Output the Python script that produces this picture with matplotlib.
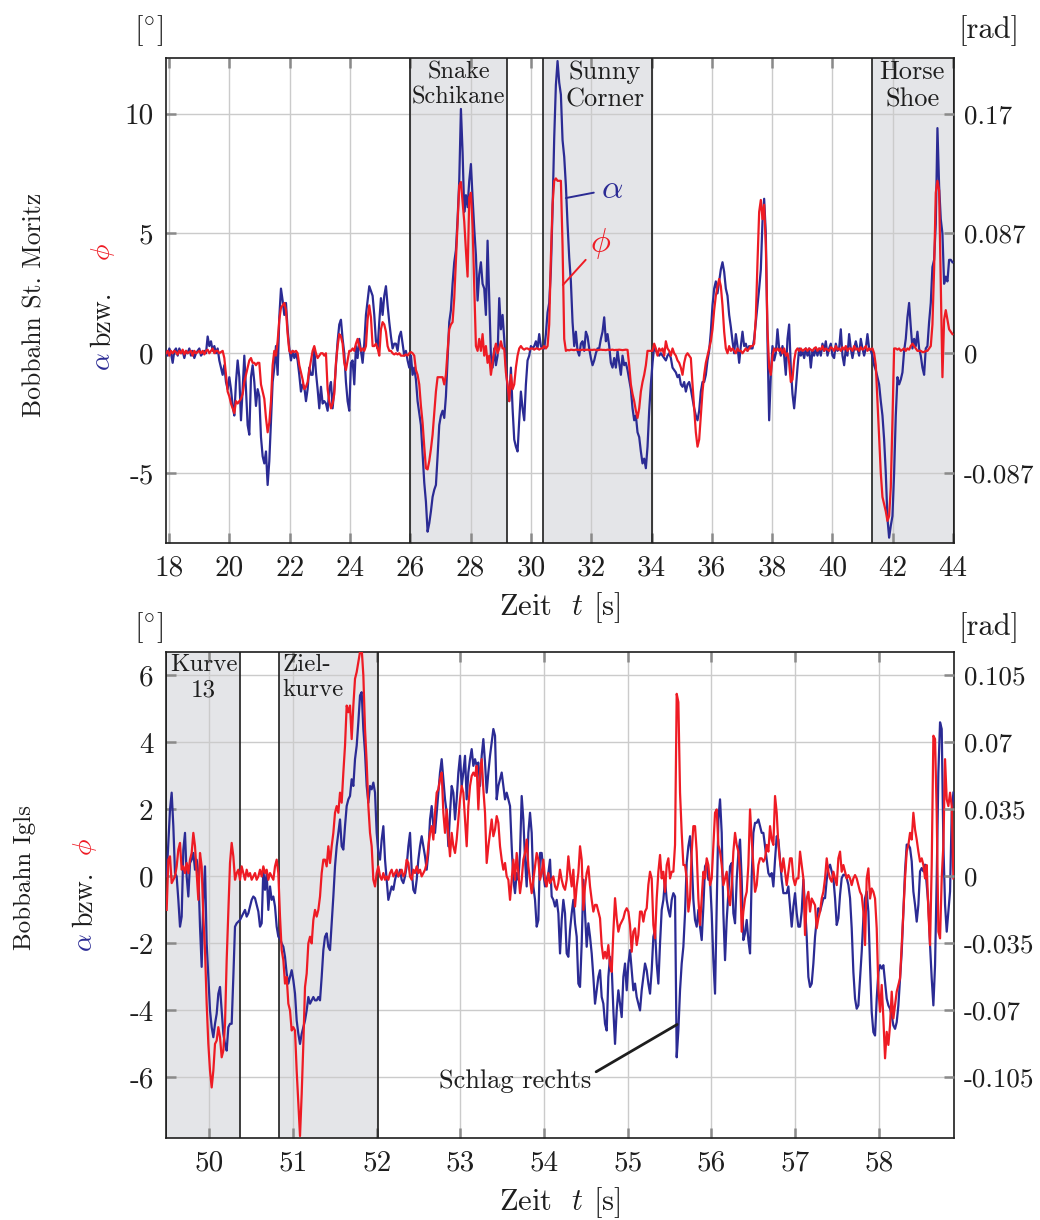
import numpy as np
import matplotlib
matplotlib.use("Agg")
import matplotlib.pyplot as plt

plt.rcParams['font.family'] = 'cmr10'
plt.rcParams['mathtext.fontset'] = 'cm'
plt.rcParams['axes.unicode_minus'] = False
plt.rcParams['axes.formatter.use_mathtext'] = True

# ---------------------------------------------------------------- data
# St. Moritz run: sample clock of the logged angles
moritz_t0 = 17.90
moritz_dt = 0.05525

moritz_alpha = [
    # 17.9 s - 24.3 s
    0.1, -0.1, 0.2, 0.0, -0.4, 0.1, 0.2, -0.1, 0.2, 0.0, 0.1, -0.2, 0.1, 0.0, 0.2, -0.1, 0.1, -0.2, 0.0, 0.1,
    0.2, -0.1, 0.0, 0.1, 0.0,
    0.7, 0.3, 0.5, 0.1, 0.3, 0.0, 0.2, -0.3, -0.6, -0.9,
    -0.5, -1.2, -1.5, -1.0, -1.5, -2.2, -2.6, -1.2, -0.3, -1.0,
    -2.8, -1.5, -0.1, -1.5, -3.0, -3.4, -1.0, -0.5, -1.2, -2.2,
    -1.5, -1.8, -3.5, -4.3, -4.6, -4.1, -5.5, -4.5, -2.8, -1.2,
    -0.6, 0.3, -0.9, 1.5, 2.7, 2.2, 1.6, 2.1, 1.0, 0.2,
    -0.3, 0.1, -0.2, 0.0, -0.3, -0.9, -1.6, -1.3, -1.4, -2.0,
    -1.5, -0.6, -0.9, -0.9, 0.2, -0.8, -1.5, -2.3, -1.4, -2.1,
    -2.0, -2.1, -2.4, -1.5, -1.2, -2.3, -1.5, -0.5, 0.5, 1.2,
    1.4, 0.6, 0.0, -1.2, -2.0, -2.4, -0.4, -0.3, -1.3, 0.3,
    -0.2, 0.6,
    # 24.4 s - 30.9 s
    0.1, -0.4, 0.4, 1.6, 2.2, 2.8, 2.6, 2.4, 1.6, 0.5,
    0.2, 1.3, 2.3, 1.6, 2.4, 2.8, 2.0, 1.3, 0.7, 0.2,
    0.4, 0.4, 0.1, 0.7, 0.9, 0.4, -0.1, 0.1, -0.3, -0.6,
    -0.1, -0.9, -0.6, -1.1, -2.0, -2.5, -3.0, -4.2, -5.4, -6.2,
    -7.45, -7.1, -6.6, -6.0, -5.7, -5.5, -4.3, -3.0, -2.6, -2.4,
    -2.7, -1.8, -0.3, 1.3, 1.8, 2.9, 3.8, 4.3, 5.6, 7.2,
    10.2, 8.4, 5.9, 6.6, 6.1, 7.2, 7.9, 6.5, 5.2, 4.1,
    2.2, 3.3, 3.8, 2.9, 2.7, 1.6, 4.7, 2.3, -0.1, -0.6,
    0.2, -0.5, -0.1, 2.3, 1.0, 1.6, 0.6, -0.5, -1.5, -2.0,
    -0.6, -2.3, -3.6, -3.9, -4.1, -2.8, -1.6, -2.3, -2.8, -1.3,
    -0.3, -0.1, 0.3, 0.2, 0.3, 0.5, 0.2, 0.8, 0.3, 0.2,
    0.2, 0.8, 1.7, 2.1, 3.5, 6.0, 9.0, 11.2, 12.2, 11.3,
    # 31.0 s - 37.6 s
    10.8, 8.9, 8.2, 7.0, 5.4, 4.0, 3.0, 1.3, 0.3, 0.9,
    0.1, -0.1, 0.4, 0.5, 0.1, 0.9, 0.7, 0.2, -0.2, -0.5,
    -0.3, 0.0, 0.2, 0.2, 0.6, 0.9, 1.5, 0.5, 0.8, 0.3,
    -0.4, -0.6, -0.2, -0.6, 0.1, -0.4, -0.9, -0.1, -0.5, -0.4,
    -0.7, -1.1, -1.5, -2.3, -2.8, -2.6, -3.3, -3.5, -4.1, -4.6,
    -4.4, -4.8, -3.9, -2.4, -1.3, -0.4, 0.3, 0.1, 0.0, -0.1,
    0.0, -0.1, -0.2, -0.3, -0.1, 0.0, -0.2, -0.6, -0.7, -0.8,
    -1.0, -0.9, -1.3, -1.4, -1.2, -1.6, -1.3, -1.2, -1.5, -1.9,
    -2.3, -2.6, -2.8, -2.4, -1.6, -1.2, -1.2, -0.9, -0.3, 0.1,
    0.9, 2.0, 2.7, 3.0, 2.5, 3.0, 3.5, 3.8, 3.4, 2.7,
    2.4, 1.6, 1.1, 0.5, 0.0, 0.8, 0.3, -0.4, 0.3, 0.9,
    0.3, 0.4, 0.1, 0.3, 0.2, 0.2, 0.6, 1.3, 2.0, 2.7,
    # 37.6 s - 44.0 s
    3.5, 5.5, 6.45, 5.0, 0.5, -2.8, -0.9, 0.3, -0.3, 0.0,
    1.0, 0.2, -0.1, 0.3, -0.1, -0.9, 0.6, 1.2, -0.6, -1.7,
    -2.3, -1.5, -0.6, 0.2, -0.1, 0.1, -0.2, 0.2, -0.1, 0.2,
    -0.6, 0.1, -0.1, 0.2, -0.1, 0.2, -0.1, 0.4, 0.1, 0.5,
    -0.1, 0.2, 0.4, -0.1, -0.2, 0.4, 0.1, 0.2, 1.0, -0.1,
    -0.5, 0.2, -0.1, 0.8, 0.2, -0.2, 0.2, 0.5, 0.2, -0.1,
    0.6, 0.2, -0.1, 0.2, 0.8, 0.2, 0.1, -0.1, -0.5, -0.7,
    -1.0, -1.3, -2.0, -2.6, -3.6, -5.0, -6.9, -7.7, -7.2, -6.8,
    -5.0, -2.6, -1.0, -1.3, -1.1, -0.8, 0.1, 0.6, 1.5, 2.1,
    1.1, 0.2, 0.6, 0.3, 0.9, 0.2, -0.1, -0.6, -0.9, 0.2,
    0.3, 1.3, 2.1, 3.6, 3.9, 5.4, 9.4, 7.0, 5.6, 5.0,
    2.9, 3.2, 3.0, 3.9, 3.9, 3.8,
]

moritz_phi = [
    # 17.9 s - 24.3 s
    0.0, 0.1, -0.1, 0.1, 0.0, 0.1, 0.05, -0.05, 0.1, 0.0,
    0.15, -0.05, 0.1, 0.0, 0.05, 0.1, -0.1, 0.1, 0.0, 0.05,
    0.1, 0.0, 0.1, -0.05, 0.1, 0.15, 0.0, 0.1, 0.2, 0.0,
    0.1, 0.1, 0.0, 0.05, 0.1,
    -0.2, -0.9, -1.6, -1.8, -2.1, -2.3, -2.5, -2.0, -2.1, -2.0,
    -1.9, -1.7, -1.2, -0.9, -0.6, -0.3, -0.2, -0.4, -0.4, -0.5,
    -0.4, -0.4, -1.3, -1.6, -1.9, -2.7, -3.3, -2.9, -2.0, -0.5,
    0.1, -0.1, 0.5, 1.4, 1.9, 2.0, 2.1, 1.8, 0.8, 0.1,
    0.0, 0.1, 0.05, 0.1, 0.0, -0.5, -0.8, -1.1, -1.5, -1.4,
    -1.2, -0.7, -0.3, 0.1, 0.3, 0.0, -0.2, -0.1, 0.0, 0.0,
    -0.1, 0.0, -1.5, -2.0, -2.3, -2.1, -1.7, -0.4, 0.3, 0.8,
    0.7, 0.4, -0.4, -0.7, -0.3, 0.1, 0.1, 0.2, 0.1, 0.4,
    0.6, 0.3,
    # 24.4 s - 30.9 s
    0.1, 0.2, 0.1, 0.3, 1.4, 2.0, 1.5, 0.3, 0.3, 0.4,
    0.2, -0.1, 1.0, 1.3, 1.2, 0.9, 0.3, 0.1, 0.1, 0.0,
    -0.05, 0.0, -0.05, 0.0, -0.1, -0.1, -0.1, -0.05, -0.1, 0.0,
    0.05, 0.0, -0.1, -0.7, -0.9, -1.3, -2.2, -2.9, -3.9, -4.8,
    -4.85, -4.5, -4.0, -3.4, -2.5, -1.6, -1.0, -1.0, -1.0, -1.0,
    -1.3, -0.9, 0.1, 1.0, 1.2, 1.3, 2.3, 3.9, 5.6, 7.0,
    7.15, 6.3, 5.5, 4.3, 3.2, 6.5, 6.7, 5.3, 2.8, 0.3,
    0.1, 0.6, 0.1, 0.8, -0.1, 0.3, -0.4, -0.1, -0.9, -0.4,
    0.1, 0.4, 0.0, 0.2, 0.5, 0.2, 0.2, -0.8, -1.3, -2.0,
    -0.9, -1.5, -1.3, -0.6, -0.1, 0.2, 0.3, 0.2, 0.15, 0.2,
    0.2, 0.15, 0.2, 0.2, 0.15, 0.2, 0.2, 0.15, 0.2, 0.2,
    0.3, 0.2, 0.3, 1.2, 4.0, 6.2, 7.2, 7.3, 7.2, 7.2,
    # 31.0 s - 37.6 s
    7.2, 4.5, 0.6, 0.1,
    0.14, 0.12, 0.15, 0.14, 0.13, 0.15, 0.14, 0.14, 0.13, 0.15,
    0.14, 0.14, 0.15, 0.13, 0.14, 0.14, 0.15, 0.14, 0.13, 0.14,
    0.15, 0.14, 0.14, 0.13, 0.15, 0.14, 0.14, 0.15, 0.13, 0.14,
    0.14, 0.15, 0.14, 0.13, 0.14, 0.15, 0.14,
    -0.5, -1.3, -1.7, -2.0, -2.4, -2.7, -2.3, -1.6, -1.2, -0.9,
    -0.5, 0.1, 0.1, 0.1, 0.1, 0.4, 0.2, -0.1, 0.2, 0.1,
    0.2, -0.1, 0.5, 0.2, 0.1, -0.1, 0.2, 0.0, -0.1, -0.3,
    -0.4, -0.6, -0.9, -0.4, -0.1, 0.0, -0.1, -0.2, -1.3, -2.3,
    -3.3, -3.9, -3.6, -2.6, -1.6, -0.9, -0.4, -0.1, 0.2, 0.5,
    1.0, 1.8, 2.4, 2.8, 3.1, 2.8, 2.0, 0.9, 0.2, 0.0,
    0.3, 0.1, 0.2, 0.1, 0.0, 0.2, 0.1, 0.1, 0.0, 0.1,
    0.2, 0.1, 0.2, 0.3, 0.3, 0.4, 1.5, 3.8, 5.9,
    # 37.6 s - 44.0 s
    6.4, 5.6, 6.2, 4.5, 1.0, -0.6, -0.9, -0.1, 0.2, 0.1,
    0.2, 0.1, 0.2, 0.0, 0.2, -0.1, 0.0, -0.4, -1.2, -1.1,
    -0.3, 0.1, 0.2, 0.1,
    0.2, 0.1, 0.15, 0.2, 0.1, 0.2, 0.15, 0.1, 0.2, 0.25,
    0.1, 0.2, 0.15, 0.3, 0.1, 0.2, 0.15, 0.1, 0.25, 0.2,
    0.1, 0.3, 0.15, 0.2, 0.1, 0.25, 0.15, 0.3, 0.1, 0.2,
    0.2, 0.1, 0.3, 0.15, 0.2, 0.1, 0.25, 0.15, 0.2, 0.3,
    0.1, 0.2, 0.15, 0.2,
    0.0, -0.5, -2.0, -3.5, -5.0, -6.0, -6.3, -6.6, -7.0, -6.8,
    -5.6, -2.8, 0.2, 0.2,
    0.15, 0.2, 0.1, 0.15, 0.2, 0.1, 0.2, 0.15,
    0.3, 0.4, 0.3, 0.2, 0.1, 0.1, 0.1, 0.05, 0.05, 0.1,
    0.1, 0.2, 0.3, 1.2, 3.5, 6.7, 7.2, 6.8, 3.0, -1.0,
    1.4, 1.8, 1.4, 1.0, 0.9, 0.8,
]

# Igls run: sample clock of the logged angles
igls_t0 = 49.488
igls_dt = 0.019925

igls_alpha = [
    # 49.5 s - 51.9 s
    0.0, 1.0, 2.0, 2.5, 1.5, 0.1, 0.0, -0.7, -1.5, -1.2,
    0.8, 1.3, 0.0, -0.6, 0.4, 0.5, 0.7, 0.2, 0.5, 0.1,
    -1.5, -2.7, -0.7, 0.3, -2.0, -3.0, -4.0, -4.5, -4.8, -4.4,
    -4.1, -3.5, -3.3, -4.0, -4.7, -5.0, -5.2, -4.5, -4.4, -4.4,
    -3.0, -1.5, -1.4, -1.35, -1.3, -1.2, -1.1, -1.0, -1.2, -1.1,
    -0.9, -0.7, -0.6, -0.65, -0.85, -1.05, -1.5, -1.4, 0.2, -0.4,
    0.1, -1.0, -0.3, -0.7, -0.6, -0.9, -1.5, -1.8, -1.85, -2.0,
    -2.1, -2.4, -2.9, -3.2, -3.0, -2.8, -3.1, -3.5, -4.3, -4.7,
    -5.0, -4.7, -4.5, -4.3, -4.0, -3.6, -3.8, -3.7, -3.6, -3.7,
    -3.7, -3.6, -3.7, -3.0, -2.2, -1.8, -1.7, -2.1, -2.2, -1.4,
    -0.6, 0.3, 0.9, 1.3, 1.7, 0.9, 0.8, 1.5, 2.1, 2.3,
    2.4, 2.9, 2.7, 3.5, 3.9, 4.6, 5.4, 5.5, 4.4, 3.7,
    2.7, 2.2,
    # 51.9 s - 54.2 s
    2.7, 2.6, 2.8, 2.5, 1.3, 0.7, 0.5, 1.1, 1.5, 0.5,
    -0.1, -0.7, -0.5, -0.3, -0.4, -0.1, 0.1, 0.0, 0.2, -0.1,
    -0.2, 0.0, 0.3, 0.9, 1.3, 0.2, -0.4, -0.5, -0.1, 0.5,
    0.9, 1.2, 0.9, 0.6, 0.2, 0.7, 1.7, 2.1, 1.5, 1.3,
    1.9, 2.5, 3.1, 3.5, 2.9, 2.3, 1.9, 0.9, 1.9, 2.7,
    2.5, 1.7, 2.3, 3.1, 3.6, 2.7, 3.1, 3.6, 2.3, 3.1,
    3.5, 3.8, 3.3, 3.5, 3.3, 3.4, 2.7, 3.6, 4.1, 3.4,
    2.5, 3.1, 3.6, 4.0, 4.4, 4.2, 2.3, 2.7, 2.9, 3.1,
    2.7, 2.3, 2.5, 2.3, 2.1, 0.9, -0.1, -0.5, 0.1, -0.1,
    0.7, 2.4, 1.7, 0.5, -0.3, 1.3, 1.9, 1.3, -0.3, -0.7,
    -1.5, -1.3, 0.7, 0.7, 0.1, -0.3, -0.1, 0.1, 0.5, -0.6,
    -0.7, -0.9, -0.7, -1.1,
    # 54.2 s - 56.4 s
    -2.3, -1.3, -0.7, -1.1, -2.3, -2.4, -1.6, -1.1, -0.7, -1.4,
    -1.8, -3.2, -3.3, -2.0, -0.1, -1.1, -2.1, -1.4, -1.8, -2.3,
    -3.0, -3.8, -3.4, -3.0, -2.8, -3.6, -3.8, -4.4, -4.6, -3.0,
    -2.4, -2.7, -4.0, -5.0, -4.0, -3.4, -3.8, -4.2, -3.0, -2.6,
    -3.4, -2.6, -2.2, -2.8, -3.4, -3.2, -3.6, -3.8, -4.0, -3.4,
    -3.0, -2.6, -2.8, -3.2, -3.5, -2.8, -1.8, -1.6, -2.6, -3.2,
    -2.0, -1.0, -0.7, -0.1, -0.7, -1.0, -1.2, -0.7, -0.5, -0.6,
    -5.4, -4.6, -3.4, -2.6, -2.1, -1.1, 0.4, 0.9, 1.2, 0.5,
    -0.7, -1.3, -1.5, -1.0, -1.5, -1.9, -0.9, 0.3, 0.4, -0.1,
    -0.1, -1.1, -2.5, -3.5, -0.9, 1.7, 2.3, 1.3, -1.1, -2.5,
    -1.3, -0.5, 0.3, 0.4, -1.1, -1.4, -0.1, 0.7, 1.1, -0.1,
    -1.9, -1.7, -1.3, -1.9,
    # 56.5 s - 58.9 s
    -2.3, 0.0, 1.3, 1.6, 1.6, 1.7, 1.5, 1.3, 1.3, 0.9,
    0.5, 0.1, 0.0, 0.1, -0.3, 0.5, 1.2, 1.1, 0.5, -0.1,
    -0.5, -0.5, -0.5, -0.3, -0.9, -1.5, -0.9, -0.5, -1.1, -1.5,
    -1.5, -1.05, -0.1, -0.9, -1.8, -3.0, -3.3, -3.2, -2.6, -1.8,
    -1.3, -0.95, -1.05, -0.85, -0.65, -0.65, -0.1, 0.25, 0.35, 0.15,
    -0.05, -0.65, -1.45, -1.25, -0.55, -0.05, 0.05, 0.05, -0.05, -0.25,
    -0.65, -1.55, -2.85, -3.65, -3.95, -3.85, -3.05, -2.25, -1.25, -0.65,
    -0.45, -1.05, -2.65, -4.05, -4.65, -4.75, -3.65, -2.85, -2.65, -2.75,
    -2.65, -3.15, -3.65, -3.85, -3.95, -4.15, -4.45, -4.55, -4.35, -3.85,
    -3.05, -2.25, -1.05, 0.15, 0.95, 0.95, 0.85, 0.45, -0.45, -0.85,
    -1.35, -0.85, 0.15, 0.25, 0.15, 0.35, -0.25, -0.85, -2.05, -3.05,
    -3.85, -2.65, -0.05, 3.1, 4.6, 4.4, 0.94, -0.85, -1.65, -1.05,
    -0.45, 1.9, 2.5,
]

igls_phi = [
    # 49.5 s - 51.9 s
    -1.0, 0.5, 0.6, -0.2, -0.1, 0.0, 0.3, 0.8, 1.0, 0.2,
    0.3, 0.1, 0.4, 0.1, 0.5, 0.7, 1.3, 0.9, 0.1, -0.7,
    0.7, 0.3, -1.2, -2.2, -3.8, -5.0, -5.8, -6.3, -5.8, -5.0,
    -4.9, -4.5, -4.8, -5.4, -5.2, -4.4, -2.5, -1.0, 0.4, 1.0,
    0.6, -0.1, 0.1, 0.2, -0.1, 0.3, 0.1, -0.1, 0.2, 0.0,
    0.1, -0.1, 0.0, 0.1, -0.1, 0.0, 0.2, 0.0, 0.3, 0.1,
    0.2, -0.1, 0.1, 0.0, -0.1, 0.3, 0.5, 0.1, -1.2, -2.2,
    -2.5, -3.2, -3.0, -3.8, -4.0, -4.6, -4.5, -4.6, -5.8, -6.8,
    -7.75, -6.5, -5.0, -3.3, -2.9, -2.0, -1.8, -2.0, -1.3, -1.0,
    -1.2, -1.0, -0.6, 0.1, 0.5, 0.5, 0.3, 0.9, 0.4, 0.9,
    1.3, 1.9, 2.1, 1.9, 2.5, 2.2, 3.1, 3.9, 5.1, 4.9,
    5.1, 4.1, 5.1, 5.9, 6.1, 6.4, 6.7, 6.8, 6.0, 4.4,
    3.4, 2.1,
    # 51.9 s - 54.2 s
    1.3, 0.9, -0.1, -0.3, 0.1, 0.3, 0.0, -0.1, 0.1, -0.1,
    0.0, -0.1, 0.1, 0.2, 0.0, 0.1, 0.2, 0.0, 0.1, 0.2,
    0.0, 0.1, 0.5, 0.4, 0.0, -0.1, 0.2, 0.1, 0.3, 0.1,
    0.2, 0.0, 0.1, 0.2, 0.4, 0.9, 1.3, 1.5, 1.1, 1.9,
    2.5, 2.6, 2.9, 3.1, 1.9, 1.3, 2.0, 1.2, 0.6, 1.3,
    0.9, 0.7, 1.1, 1.7, 2.3, 2.7, 2.5, 1.7, 0.9, 2.1,
    2.7, 3.0, 3.1, 3.0, 3.3, 2.0, 3.1, 3.5, 2.6, 1.9,
    0.4, 0.9, 1.3, 1.7, 1.2, 1.4, 1.8, 1.6, 0.9, 0.5,
    0.2, 0.4, 0.0, -0.1, -0.7, -0.1, 0.5, -0.1, 0.7, 0.1,
    -0.5, -0.1, 0.5, 0.7, 1.1, 0.3, -0.1, -0.5, -0.1, 0.3,
    0.7, 0.5, -0.1, 0.1, 0.5, -0.1, -0.3, 0.1, -0.2, -0.1,
    0.0, -0.3, -0.4, -0.2,
    # 54.2 s - 56.4 s
    0.2, -0.1, -0.3, -0.4, -0.1, 0.6, 0.1, -0.3, 0.2, -0.9,
    -0.3, 0.1, 0.9, 0.5, -1.0, -0.3, 0.1, 0.3, -0.3, -0.7,
    -1.05, -0.85, -0.85, -1.05, -1.25, -2.05, -2.45, -2.25, -2.45, -2.05,
    -2.65, -2.85, -1.65, -0.65, -1.25, -1.65, -1.45, -1.35, -1.25, -1.05,
    -0.95, -1.05, -1.45, -2.25, -1.65, -1.55, -2.05, -1.75, -1.05, -1.05,
    -1.35, -1.05, -0.95, -0.25, 0.14, -0.06, -1.45, -1.85, -0.66, 0.14,
    0.64, -0.06, 0.14, -0.46, 0.34, 0.54, -0.06, 0.14, 0.14, 0.94,
    5.45, 5.2, 2.5, 1.3, 0.34, 0.34, -0.06, -1.05, -0.66, 0.74,
    1.5, 1.5, 0.74, -0.66, -1.45, -0.66, 0.14, -0.06, 0.54, 0.34,
    -0.26, -0.06, 0.94, 1.9, 2.0, 0.94, 0.74, 0.34, -0.26, -0.06,
    0.14, -0.56, -0.86, -0.26, 0.74, 1.3, 0.94, 0.74, 0.14, -1.65,
    -1.05, -0.66, -0.46, 0.34,
    # 56.5 s - 58.9 s
    2.0, 1.1, 0.34, -0.46, -0.26, 0.34, 0.54, 0.54, 0.44, 0.54,
    0.94, 0.74, 1.5, 1.1, 0.94, 2.4, 1.9, 0.94, 0.44, 0.14,
    0.54, 0.14, -0.26, 0.14, 0.54, 0.54, -0.06, -0.26, -0.06, -0.06,
    0.74, 0.34, -0.06, -1.75, -0.66, -0.46, -1.05, -0.66, -0.76, -0.86,
    -1.55, -1.25, -1.05, -0.66, -0.46, -0.06, 0.54, 0.14, -0.06, -0.16,
    0.14, -0.06, -0.26, 0.54, 0.74, 0.14, 0.34, 0.14, -0.06, 0.04,
    -0.06, -0.26, -0.06, 0.04, -0.06, -0.26, -0.46, -0.56, -1.05, -2.05,
    -0.06, 0.24, -0.66, -0.36, -0.46, -0.66, -1.55, -3.35, -4.04, -3.24,
    -4.24, -5.43, -4.64, -5.03, -4.44, -3.44, -4.24, -3.84, -3.44, -3.24,
    -3.04, -2.05, -1.05, -0.06, 0.74, 0.94, 1.3, 1.1, 1.9, 1.4,
    1.1, 0.74, 0.44, 0.54, 0.34, -0.06, 0.34, -1.05, -2.05, 0.34,
    4.2, 4.1, 1.9, -1.65, -1.85, -0.06, 0.94, 3.5, 2.3, 2.1,
    2.5, 2.1, -0.06,
]

# named track sections (start, end) in seconds
moritz_sections = [(26.0, 29.2), (30.4, 34.0), (41.3, 44.03)]
moritz_section_names = ['Snake\nSchikane', 'Sunny\nCorner', 'Horse\nShoe']
igls_sections = [(49.48, 50.36), (50.83, 52.02)]
igls_section_names = ['Kurve\n13', 'Ziel-\nkurve']

moritz_xticks = list(range(18, 45, 2))
moritz_yticks = [-5, 0, 5, 10]
moritz_rad_labels = ['-0.087', '0', '0.087', '0.17']
igls_xticks = list(range(50, 59))
igls_yticks = [-6, -4, -2, 0, 2, 4, 6]
igls_rad_labels = ['-0.105', '-0.07', '-0.035', '0', '0.035', '0.07', '0.105']

# ---------------------------------------------------------------- style
BLUE = '#2b2b94'
RED = '#ee1b24'
SHADE = '#e4e5e8'
GRID = '#cbcbcb'
TICK = '#8a8a8a'
INK = '#1e1e1e'
W, H = 1040, 1220


def panel(rect_px, xlim, ylim, xticks, yticks, rad_labels):
    l, t, r, b = rect_px
    ax = fig.add_axes([l / W, 1 - b / H, (r - l) / W, (b - t) / H])
    ax.set_xlim(*xlim)
    ax.set_ylim(*ylim)
    ax.set_xticks(xticks)
    ax.set_xticklabels([str(v) for v in xticks])
    ax.set_yticks(yticks)
    ax.set_yticklabels([str(v) for v in yticks])
    ax.grid(True, color=GRID, lw=1.0)
    ax.tick_params(direction='in', length=7, width=1.8, color=TICK,
                   top=True, right=False, labelsize=21, labelcolor=INK)
    ax.tick_params(axis='x', pad=9)
    ax.tick_params(axis='y', pad=9)
    for s in ax.spines.values():
        s.set_linewidth(1.2)
        s.set_color(INK)
    axr = ax.twinx()
    axr.set_ylim(*ylim)
    axr.set_yticks(yticks)
    axr.set_yticklabels(rad_labels)
    axr.tick_params(direction='in', length=7, width=1.8, color=TICK,
                    labelsize=19.5, labelcolor=INK, pad=7)
    for s in axr.spines.values():
        s.set_visible(False)
    return ax


def shade(ax, sections, names, label_x, label_y, ha, size):
    for (a, b), name, lx in zip(sections, names, label_x):
        ax.axvspan(a, b, color=SHADE, lw=0, zorder=0.5)
        for edge in (a, b):
            ax.axvline(edge, color=INK, lw=1.2, zorder=1.8)
        ax.text(lx, label_y, name, ha=ha, va='top', fontsize=size,
                linespacing=1.2, color=INK, zorder=4)


fig = plt.figure(figsize=(W / 100, H / 100), dpi=100)

# ---------------------------------------------------------------- St. Moritz
ax1 = panel((166, 57.7, 954, 542.7), (17.9, 44.03), (-7.91, 12.34),
            moritz_xticks, moritz_yticks, moritz_rad_labels)
shade(ax1, moritz_sections[:1], moritz_section_names[:1], [27.6], 12.2, 'center', 17.5)
shade(ax1, moritz_sections[1:], moritz_section_names[1:], [32.45, 42.65], 12.25, 'center', 19)

t1a = moritz_t0 + moritz_dt * np.arange(len(moritz_alpha))
t1p = moritz_t0 + moritz_dt * np.arange(len(moritz_phi))
ax1.plot(t1a, moritz_alpha, color=BLUE, lw=1.6, zorder=3)
ax1.plot(t1p, moritz_phi, color=RED, lw=1.6, zorder=3.1)

ax1.annotate(r'$\alpha$', xy=(31.16, 6.48), xytext=(32.68, 6.85),
             color=BLUE, fontsize=24, ha='center', va='center', zorder=5,
             arrowprops=dict(arrowstyle='-', color=BLUE, lw=1.4, shrinkA=3, shrinkB=0))
ax1.annotate(r'$\phi$', xy=(31.06, 2.85), xytext=(32.32, 4.6),
             color=RED, fontsize=24, ha='center', va='center', zorder=5,
             arrowprops=dict(arrowstyle='-', color=RED, lw=1.4, shrinkA=2, shrinkB=0))
ax1.set_xlabel('Zeit  $t$ [s]', fontsize=22, labelpad=6, color=INK)

# ---------------------------------------------------------------- Igls
ax2 = panel((166, 652.3, 954, 1137.7), (49.48, 58.9), (-7.8, 6.69),
            igls_xticks, igls_yticks, igls_rad_labels)
shade(ax2, igls_sections[:1], igls_section_names[:1], [49.93], 6.65, 'center', 18)
shade(ax2, igls_sections[1:], igls_section_names[1:], [50.87], 6.65, 'left', 18)

t2a = igls_t0 + igls_dt * np.arange(len(igls_alpha))
t2p = igls_t0 + igls_dt * np.arange(len(igls_phi))
ax2.plot(t2a, igls_alpha, color=BLUE, lw=1.6, zorder=3)
ax2.plot(t2p, igls_phi, color=RED, lw=1.6, zorder=3.1)

ax2.annotate('Schlag rechts', xy=(55.59, -4.42), xytext=(53.65, -6.1),
             fontsize=19, ha='center', va='center', color=INK, zorder=5,
             arrowprops=dict(arrowstyle='-', color=INK, lw=2.0, shrinkA=2, shrinkB=0,
                             relpos=(1.0, 0.75)))
ax2.set_xlabel('Zeit  $t$ [s]', fontsize=22, labelpad=6, color=INK)

# ---------------------------------------------------------------- unit and axis labels
for y in (31, 628):
    fig.text(149 / W, 1 - y / H, r'[$^{\circ}$]', fontsize=22, ha='center', va='center', color=INK)
    fig.text(989 / W, 1 - y / H, '[rad]', fontsize=22, ha='center', va='center', color=INK)


def side_label(x_base, y_center, text, size):
    fig.text(x_base / W, 1 - y_center / H, text, rotation=90, rotation_mode='anchor',
             ha='center', va='baseline', fontsize=size, color=INK)


def angle_label(x_base, ys):
    for (y, txt, col) in zip(ys, [r'$\alpha$', 'bzw.', r'$\phi$'], [BLUE, INK, RED]):
        fig.text(x_base / W, 1 - y / H, txt, rotation=90, rotation_mode='anchor',
                 ha='center', va='baseline', fontsize=20, color=col)


side_label(42, 305, 'Bobbahn St. Moritz', 18.5)
angle_label(110, (362, 319, 252))
side_label(31, 878, 'Bobbahn Igls', 18)
angle_label(92, (943, 899, 847))

fig.savefig('out.png', dpi=100)
